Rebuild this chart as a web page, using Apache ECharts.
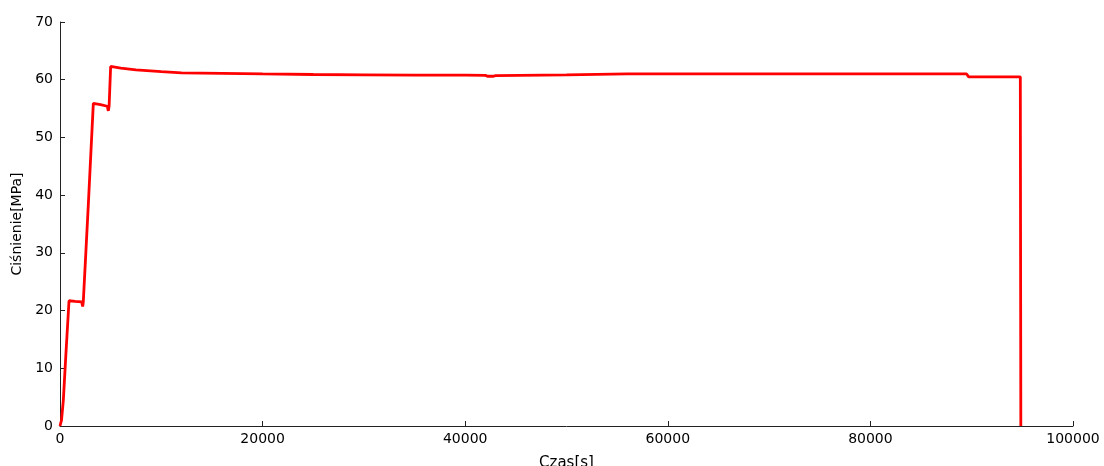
<!DOCTYPE html>
<html>
<head>
<meta charset="utf-8">
<script src="https://cdn.jsdelivr.net/npm/echarts@6/dist/echarts.min.js"></script>
<style>html,body{margin:0;padding:0;background:#fff}#c{width:1104px;height:466px}</style>
</head>
<body>
<div id="c"></div>
<script>
var timeSec = [0, 150, 330, 600, 890, 1500, 2140, 2240, 2300, 2800, 3290, 4000, 4670, 4770, 4850, 5000, 6000, 7500, 10000, 12000, 16000, 20000, 25000, 30000, 35000, 40000, 42000, 42200, 42800, 43000, 50000, 56000, 60000, 70000, 80000, 89500, 89700, 94800, 94850];
var pressure = [0, 1.0, 4.5, 13.0, 21.7, 21.6, 21.5, 20.7, 21.5, 38.5, 55.9, 55.7, 55.4, 54.6, 55.5, 62.3, 62.0, 61.7, 61.4, 61.2, 61.1, 61.0, 60.9, 60.85, 60.8, 60.8, 60.75, 60.6, 60.6, 60.7, 60.85, 61.0, 61.0, 61.0, 61.0, 61.0, 60.5, 60.5, 0];
var xTicks = [0, 20000, 40000, 60000, 80000, 100000];
var yTicks = [0, 10, 20, 30, 40, 50, 60, 70];

var data = timeSec.map(function (t, i) { return [t, pressure[i]]; });
var chart = echarts.init(document.getElementById('c'), null, {renderer: 'canvas'});
var font = 'DejaVu Sans';
var axisCol = '#222';
chart.setOption({
  animation: false,
  backgroundColor: '#fff',
  grid: {left: 60, right: 31, top: 22, bottom: 40, containLabel: false, outerBoundsMode: 'none'},
  xAxis: {
    type: 'value', min: xTicks[0], max: xTicks[xTicks.length - 1], interval: 20000,
    name: 'Czas[s]', nameLocation: 'middle', nameGap: 30,
    nameTextStyle: {fontFamily: font, fontSize: 15, color: '#000'},
    axisLine: {show: true, lineStyle: {color: axisCol, width: 1}},
    axisTick: {show: true, inside: true, length: 5, lineStyle: {color: axisCol}},
    axisLabel: {fontFamily: font, fontSize: 14, color: '#000', margin: 6, formatter: function (v) { return String(v); }},
    splitLine: {show: false}
  },
  yAxis: {
    type: 'value', min: yTicks[0], max: yTicks[yTicks.length - 1], interval: 10,
    name: 'Ciśnienie[MPa]', nameLocation: 'middle', nameGap: 33, nameRotate: 90,
    nameTextStyle: {fontFamily: font, fontSize: 14, color: '#000'},
    axisLine: {show: true, lineStyle: {color: axisCol, width: 1}},
    axisTick: {show: true, inside: true, length: 5, lineStyle: {color: axisCol}},
    axisLabel: {fontFamily: font, fontSize: 14, color: '#000', margin: 7, formatter: function (v) { return String(v); }},
    splitLine: {show: false}
  },
  series: [{
    type: 'line', data: data, showSymbol: false, symbol: 'none',
    lineStyle: {color: '#ff0000', width: 2.8},
    clip: false
  }]
});
</script>
</body>
</html>
